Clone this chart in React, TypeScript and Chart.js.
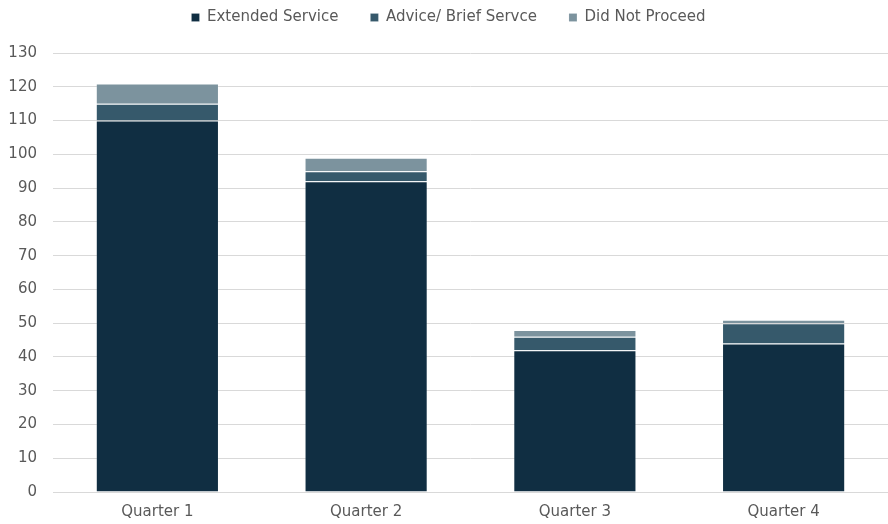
import React, { useEffect, useRef } from "react";
import { Chart, registerables } from "chart.js";

Chart.register(...registerables);

const categories = ["Quarter 1", "Quarter 2", "Quarter 3", "Quarter 4"];
const extendedService = [110, 92, 42, 44];
const adviceBrief = [5, 3, 4, 6];
const didNotProceed = [6, 4, 2, 1];
const seriesLabels = ["Extended Service", "Advice/ Brief Servce", "Did Not Proceed"];

const FONT = "'DejaVu Sans', sans-serif";
const TEXT = "#595959";

const legendGap = {
  id: "legendGap",
  beforeInit(chart: any) {
    const legend = chart.legend;
    if (!legend) return;
    const orig = legend.fit;
    legend.fit = function () {
      orig.call(this);
      this.height += 18;
    };
  },
};

export default function App() {
  const ref = useRef<HTMLCanvasElement | null>(null);
  useEffect(() => {
    if (!ref.current) return;
    const border = "rgba(255,255,255,0.15)";
    const chart = new Chart(ref.current, {
      type: "bar",
      data: {
        labels: categories,
        datasets: [
          { label: seriesLabels[0], data: extendedService, backgroundColor: "#102e42", borderColor: border, borderWidth: 1 },
          { label: seriesLabels[1], data: adviceBrief, backgroundColor: "#36596b", borderColor: border, borderWidth: 1 },
          { label: seriesLabels[2], data: didNotProceed, backgroundColor: "#7c939e", borderColor: border, borderWidth: 1 },
        ],
      },
      plugins: [legendGap],
      options: {
        animation: false,
        responsive: false,
        maintainAspectRatio: false,
        layout: { padding: { left: 9, right: 0, top: -22, bottom: 0 } },
        datasets: { bar: { categoryPercentage: 1, barPercentage: 0.59 } },
        plugins: {
          legend: {
            position: "top",
            labels: {
              color: TEXT,
              font: { family: FONT, size: 15 },
              boxWidth: 8,
              boxHeight: 8,
              padding: 32,
            },
          },
          tooltip: { enabled: false },
        },
        scales: {
          x: {
            stacked: true,
            grid: { display: false },
            border: { color: "#d9d9d9" },
            ticks: { color: TEXT, font: { family: FONT, size: 15 } },
          },
          y: {
            stacked: true,
            min: 0,
            max: 130,
            afterFit: (scale: any) => {
              scale.width = 44;
            },
            ticks: { stepSize: 10, color: TEXT, font: { family: FONT, size: 15 }, padding: 16 },
            grid: { color: "#d9d9d9", drawTicks: false },
            border: { display: false },
          },
        },
      },
    });
    return () => chart.destroy();
  }, []);
  return (
    <div style={{ position: "fixed", left: 0, top: 0, width: 888, height: 524, background: "#fff" }}>
      <canvas ref={ref} width={888} height={524} style={{ width: 888, height: 524 }} />
    </div>
  );
}
